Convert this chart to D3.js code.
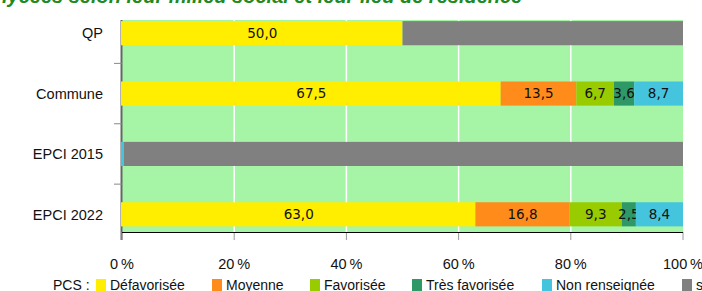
<!DOCTYPE html>
<html>
<head>
<meta charset="utf-8">
<script src="https://cdn.jsdelivr.net/npm/d3@7"></script>
<style>
    body { margin: 0; background: #fff; }
    svg { display: block; }
</style>
</head>
<body>
<div id="chart"></div>
<script>
// Categories (top to bottom)
const categories = ['QP', 'Commune', 'EPCI 2015', 'EPCI 2022'];

// PCS series
const seriesNames = ['Défavorisée', 'Moyenne', 'Favorisée', 'Très favorisée', 'Non renseignée', 'sans objet'];
const seriesColors = ['#ffee00', '#ff8c1a', '#99cc00', '#2e9966', '#45c4de', '#808080'];

// values in %, one per category
const defavorisee   = [50.0, 67.5, 0, 63.0];
const moyenne       = [0, 13.5, 0, 16.8];
const favorisee     = [0, 6.7, 0, 9.3];
const tresFavorisee = [0, 3.6, 0, 2.5];
const nonRenseignee = [0, 8.7, 0.3, 8.4];
const sansObjet     = [50.0, 0, 99.7, 0];

const xTicks = [0, 20, 40, 60, 80, 100];

const seriesValues = [defavorisee, moyenne, favorisee, tresFavorisee, nonRenseignee, sansObjet];

const W = 702, H = 291;
const plot = { left: 122, right: 683, top: 20, bottom: 232 };

const svg = d3.select('#chart').append('svg')
    .attr('width', W)
    .attr('height', H);

// title (cut at the top of the picture)
svg.append('text')
    .attr('x', 2)
    .attr('y', 3)
    .attr('font-family', 'Liberation Sans, Arial, sans-serif')
    .attr('font-size', 20)
    .attr('font-weight', 'bold')
    .attr('font-style', 'italic')
    .attr('fill', '#1f8a1f')
    .text('lycées selon leur milieu social et leur lieu de résidence');

const x = d3.scaleLinear().domain([0, 100]).range([plot.left, plot.right]);
const y = d3.scaleBand()
    .domain(categories)
    .range([3, 244.5])
    .paddingInner(0.6)
    .paddingOuter(0.3);

// background
svg.append('rect')
    .attr('x', plot.left)
    .attr('y', plot.top)
    .attr('width', plot.right - plot.left)
    .attr('height', plot.bottom - plot.top)
    .attr('fill', '#a6f5a6');

// vertical grid
svg.append('g')
    .selectAll('line')
    .data(xTicks.filter(t => t > 0 && t < 100))
    .enter().append('line')
    .attr('x1', d => x(d)).attr('x2', d => x(d))
    .attr('y1', plot.top).attr('y2', plot.bottom)
    .attr('stroke', '#ffffff')
    .attr('stroke-width', 1.5);

// left axis (drawn under the bars)
svg.append('line')
    .attr('x1', plot.left - 0.5).attr('x2', plot.left - 0.5)
    .attr('y1', plot.top).attr('y2', plot.bottom + 8)
    .attr('stroke', '#666').attr('stroke-width', 2);

// stacked data
const rows = categories.map((c, i) => {
    const r = { cat: c };
    seriesNames.forEach((s, j) => { r[s] = seriesValues[j][i]; });
    return r;
});
const stacked = d3.stack().keys(seriesNames)(rows);

const layers = svg.append('g')
    .selectAll('g')
    .data(stacked)
    .enter().append('g')
    .attr('fill', (d, i) => seriesColors[i]);

layers.selectAll('rect')
    .data(d => d.map(p => ({ p: p, key: d.key })))
    .enter().append('rect')
    .attr('x', d => x(d.p[0]) - (d.p[0] === 0 ? 1 : 0))
    .attr('y', d => y(d.p.data.cat))
    .attr('width', d => x(d.p[1]) - x(d.p[0]) + (d.p[0] === 0 && d.p[1] > 0 ? 1 : 0))
    .attr('height', y.bandwidth());

// value labels
layers.selectAll('text')
    .data(d => d.map(p => ({ p: p, key: d.key })).filter(d => d.key !== 'sans objet' && d.p[1] - d.p[0] >= 1))
    .enter().append('text')
    .attr('x', d => (x(d.p[0]) + x(d.p[1])) / 2)
    .attr('y', d => y(d.p.data.cat) + y.bandwidth() / 2)
    .attr('dy', '0.36em')
    .attr('text-anchor', 'middle')
    .attr('font-family', 'DejaVu Sans, Verdana, sans-serif')
    .attr('font-size', 13.5)
    .attr('fill', '#111')
    .text(d => d3.format('.1f')(d.p[1] - d.p[0]).replace('.', ','));

const step = y.step();
svg.append('g')
    .selectAll('line')
    .data(categories.slice(0, -1))
    .enter().append('line')
    .attr('x1', plot.left - 8).attr('x2', plot.left)
    .attr('y1', d => y(d) + y.bandwidth() + (step - y.bandwidth()) / 2)
    .attr('y2', d => y(d) + y.bandwidth() + (step - y.bandwidth()) / 2)
    .attr('stroke', '#888').attr('stroke-width', 1);

svg.append('g')
    .selectAll('text')
    .data(categories)
    .enter().append('text')
    .attr('x', 103)
    .attr('y', d => y(d) + y.bandwidth() / 2)
    .attr('dy', '0.36em')
    .attr('text-anchor', 'end')
    .attr('font-family', 'Liberation Sans, Arial, sans-serif')
    .attr('font-size', 14.5)
    .attr('fill', '#111')
    .text(d => d);

// bottom axis
svg.append('g')
    .selectAll('line')
    .data(xTicks)
    .enter().append('line')
    .attr('x1', d => x(d)).attr('x2', d => x(d))
    .attr('y1', plot.bottom).attr('y2', plot.bottom + 8)
    .attr('stroke', '#999').attr('stroke-width', 1);

svg.append('line')
    .attr('x1', plot.left).attr('x2', plot.right)
    .attr('y1', plot.bottom + 0.5).attr('y2', plot.bottom + 0.5)
    .attr('stroke', '#000').attr('stroke-width', 1);

svg.append('g')
    .selectAll('text')
    .data(xTicks)
    .enter().append('text')
    .attr('x', d => x(d))
    .attr('y', 269)
    .attr('text-anchor', 'middle')
    .attr('font-family', 'Liberation Sans, Arial, sans-serif')
    .attr('font-size', 14.5)
    .attr('fill', '#111')
    .text(d => d + '\u2009%');

// legend
const legend = svg.append('g')
    .attr('font-family', 'Liberation Sans, Arial, sans-serif')
    .attr('font-size', 14)
    .attr('fill', '#111');

legend.append('text')
    .attr('x', 53)
    .attr('y', 290)
    .text('PCS :');

const legendX = [96, 212, 310, 412, 542, 682];
const items = legend.selectAll('g.item')
    .data(seriesNames)
    .enter().append('g')
    .attr('class', 'item')
    .attr('transform', (d, i) => `translate(${legendX[i]},0)`);

items.append('rect')
    .attr('x', 0).attr('y', 279)
    .attr('width', 10).attr('height', 14)
    .attr('fill', (d, i) => seriesColors[i]);

items.append('text')
    .attr('x', 14)
    .attr('y', 290)
    .text(d => d);
</script>
</body>
</html>
